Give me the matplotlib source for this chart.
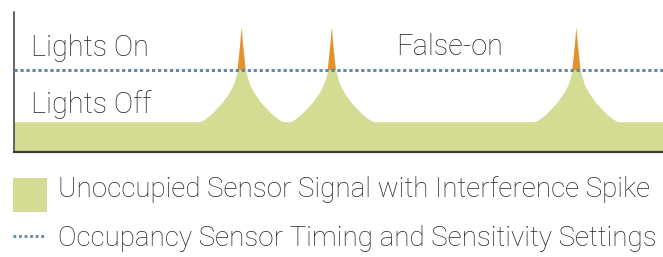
import numpy as np
import matplotlib
matplotlib.use("Agg")
import matplotlib.pyplot as plt
from matplotlib.patches import Rectangle
from matplotlib.lines import Line2D

# ---- data (in axis units) ----
x_range = [0, 649]
baseline_level = 30.3            # unoccupied signal floor
threshold_level = 82.0           # occupancy sensor setting
spike_centers = [227.5, 317.7, 562.3]
# half-profile of one interference spike: offset from centre, height above floor
profile_dx = [0, 0.6, 1.3, 2.0, 2.7, 3.3, 4.0, 5.0, 6.5, 8.0, 10.0, 12.5,
              15.7, 19.5, 24.0, 28.0, 32.3, 36.5, 40.7, 42.0]
profile_h = [94.4, 86.0, 77.7, 71.0, 64.4, 58.0, 52.0, 47.5, 42.5, 37.7, 33.5,
             29.0, 24.4, 19.0, 14.4, 10.0, 6.0, 2.8, 0.4, 0.0]

labels_left = ["Lights On", "Lights Off"]
label_event = "False-on"
legend_labels = ["Unoccupied Sensor Signal with Interference Spike",
                 "Occupancy Sensor Timing and Sensitivity Settings"]

GREEN = "#D4DB93"
ORANGE = "#E5902A"
BLUE = "#5A86A5"
TEXT = "#262626"
FONT = ["Roboto", "DejaVu Sans"]

# ---- build signal from the data ----
xs = [x_range[0]]
ys = [baseline_level]
for c in spike_centers:
    for dx, h in zip(profile_dx[::-1], profile_h[::-1]):
        xs.append(c - dx); ys.append(baseline_level + h)
    for dx, h in zip(profile_dx[1:], profile_h[1:]):
        xs.append(c + dx); ys.append(baseline_level + h)
xs.append(x_range[1]); ys.append(baseline_level)
xs = np.array(xs); ys = np.array(ys)

W, H = 663, 257
fig = plt.figure(figsize=(W / 100, H / 100), dpi=100)

def fx(px):
    return px / W

def fy(py):
    return 1 - py / H

ax_left, ax_top, ax_bottom = 14, 12, 152
ax = fig.add_axes([fx(ax_left), fy(ax_bottom), fx(W - ax_left), (ax_bottom - ax_top) / H])
ax.set_xlim(*x_range)
ax.set_ylim(0, 140)

ax.fill_between(xs, 0, ys, color=GREEN, linewidth=0, zorder=1)
ax.fill_between(xs, threshold_level, ys, where=ys >= threshold_level,
                interpolate=True, color=ORANGE, linewidth=0, zorder=2)
ax.axhline(threshold_level, color=BLUE, linewidth=2.1,
           linestyle=(0, (1.1, 0.95)), zorder=3)

for s in ["top", "right"]:
    ax.spines[s].set_visible(False)
ax.spines["left"].set_color("#3a3a3a")
ax.spines["left"].set_linewidth(1.1)
ax.spines["bottom"].set_color("#3a3a3a")
ax.spines["bottom"].set_linewidth(1.6)
ax.set_xticks([]); ax.set_yticks([])

fs = 20.8
fig.text(fx(31), fy(55.7), labels_left[0], fontsize=fs, color=TEXT,
         family=FONT, weight="light", va="baseline", ha="left")
fig.text(fx(31), fy(113.3), labels_left[1], fontsize=fs, color=TEXT,
         family=FONT, weight="light", va="baseline", ha="left")
fig.text(fx(396.5), fy(55.3), label_event, fontsize=fs, color=TEXT,
         family=FONT, weight="light", va="baseline", ha="left")

# legend
fig.patches.append(Rectangle((fx(12.7), fy(211.7)), fx(34), 33.4 / H,
                             transform=fig.transFigure, color=GREEN, linewidth=0))
fig.lines.append(Line2D([fx(12.7), fx(46)], [fy(236), fy(236)],
                        transform=fig.transFigure, color=BLUE, linewidth=2.0,
                        linestyle=(0, (1.0, 1.0))))
fig.text(fx(58), fy(197), legend_labels[0], fontsize=20.0, color=TEXT,
         family=FONT, weight="light", va="baseline", ha="left")
fig.text(fx(58), fy(246), legend_labels[1], fontsize=20.0, color=TEXT,
         family=FONT, weight="light", va="baseline", ha="left")

fig.savefig("out.png", dpi=100)
